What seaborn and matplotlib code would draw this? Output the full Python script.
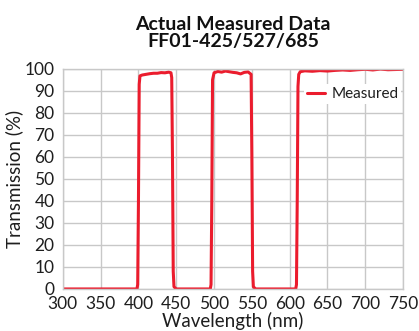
import pandas as pd
import seaborn as sns
import matplotlib.pyplot as plt

# Measured transmission curve
wavelength = [300, 350, 398, 399, 400, 401, 402, 405, 410, 415, 420, 425, 430, 435, 440, 443, 444,
              445, 446, 447, 450, 490, 495, 496, 497, 498, 500, 505, 510, 515, 520, 525, 530,
              535, 540, 545, 549, 550, 551, 552, 555, 600, 608, 609, 610, 611, 612, 614, 620,
              630, 640, 650, 660, 670, 680, 690, 700, 710, 720, 730, 740, 750]
transmission = [0, 0, 0, 2, 40, 93, 96.8, 97.2, 97.5, 97.8, 98.0, 98.0, 98.3, 98.2, 98.5, 98.2, 96,
                60, 8, 1, 0, 0, 0, 2, 40, 95, 98.2, 98.8, 98.5, 99.0, 98.7, 98.4, 98.2,
                97.7, 98.4, 98.6, 97.5, 60, 8, 1, 0, 0, 0, 2, 40, 92, 97.5, 98.7, 99.1,
                98.9, 99.2, 99.0, 99.3, 99.5, 99.3, 99.6, 99.8, 99.5, 99.9, 99.6, 99.7, 99.8]

df = pd.DataFrame({'wavelength': wavelength, 'transmission': transmission})

sns.set_style("whitegrid")
plt.rcParams['font.family'] = ['Lato', 'DejaVu Sans']
text_col = '#1E1E1E'

fig = plt.figure(figsize=(4.19, 3.31), dpi=100)
ax = fig.add_axes([0.150, 0.127, 0.812, 0.665])

sns.lineplot(data=df, x='wavelength', y='transmission', color='#EB1C2D',
             linewidth=2.2, label='Measured', ax=ax)

ax.set_xlim(300, 750)
ax.set_ylim(0, 100)
ax.set_xticks(range(300, 751, 50))
ax.set_yticks(range(0, 101, 10))
ax.grid(True, color='#C8C8C8', linewidth=1)
for s in ax.spines.values():
    s.set_color('#C8C8C8')
    s.set_linewidth(1)
ax.tick_params(axis='both', length=0, labelsize=12.5, labelcolor=text_col)
ax.tick_params(axis='x', pad=5)
ax.tick_params(axis='y', pad=6)

ax.set_xlabel('Wavelength (nm)', fontsize=13.5, color=text_col, labelpad=0)
ax.set_ylabel('Transmission (%)', fontsize=13.5, color=text_col, labelpad=1)

leg = ax.legend(loc='upper right', bbox_to_anchor=(0.995, 0.93), frameon=True, fancybox=False,
                framealpha=1, edgecolor='none', fontsize=11, handlelength=1.2,
                handletextpad=0.4, borderpad=0.2, borderaxespad=0)
for t in leg.get_texts():
    t.set_color(text_col)

fig.text(0.556, 0.85, 'Actual Measured Data\nFF01-425/527/685', ha='center', va='bottom',
         fontsize=14, fontweight='bold', linespacing=1.0, color='#111111')

fig.savefig('out.png', dpi=100)
